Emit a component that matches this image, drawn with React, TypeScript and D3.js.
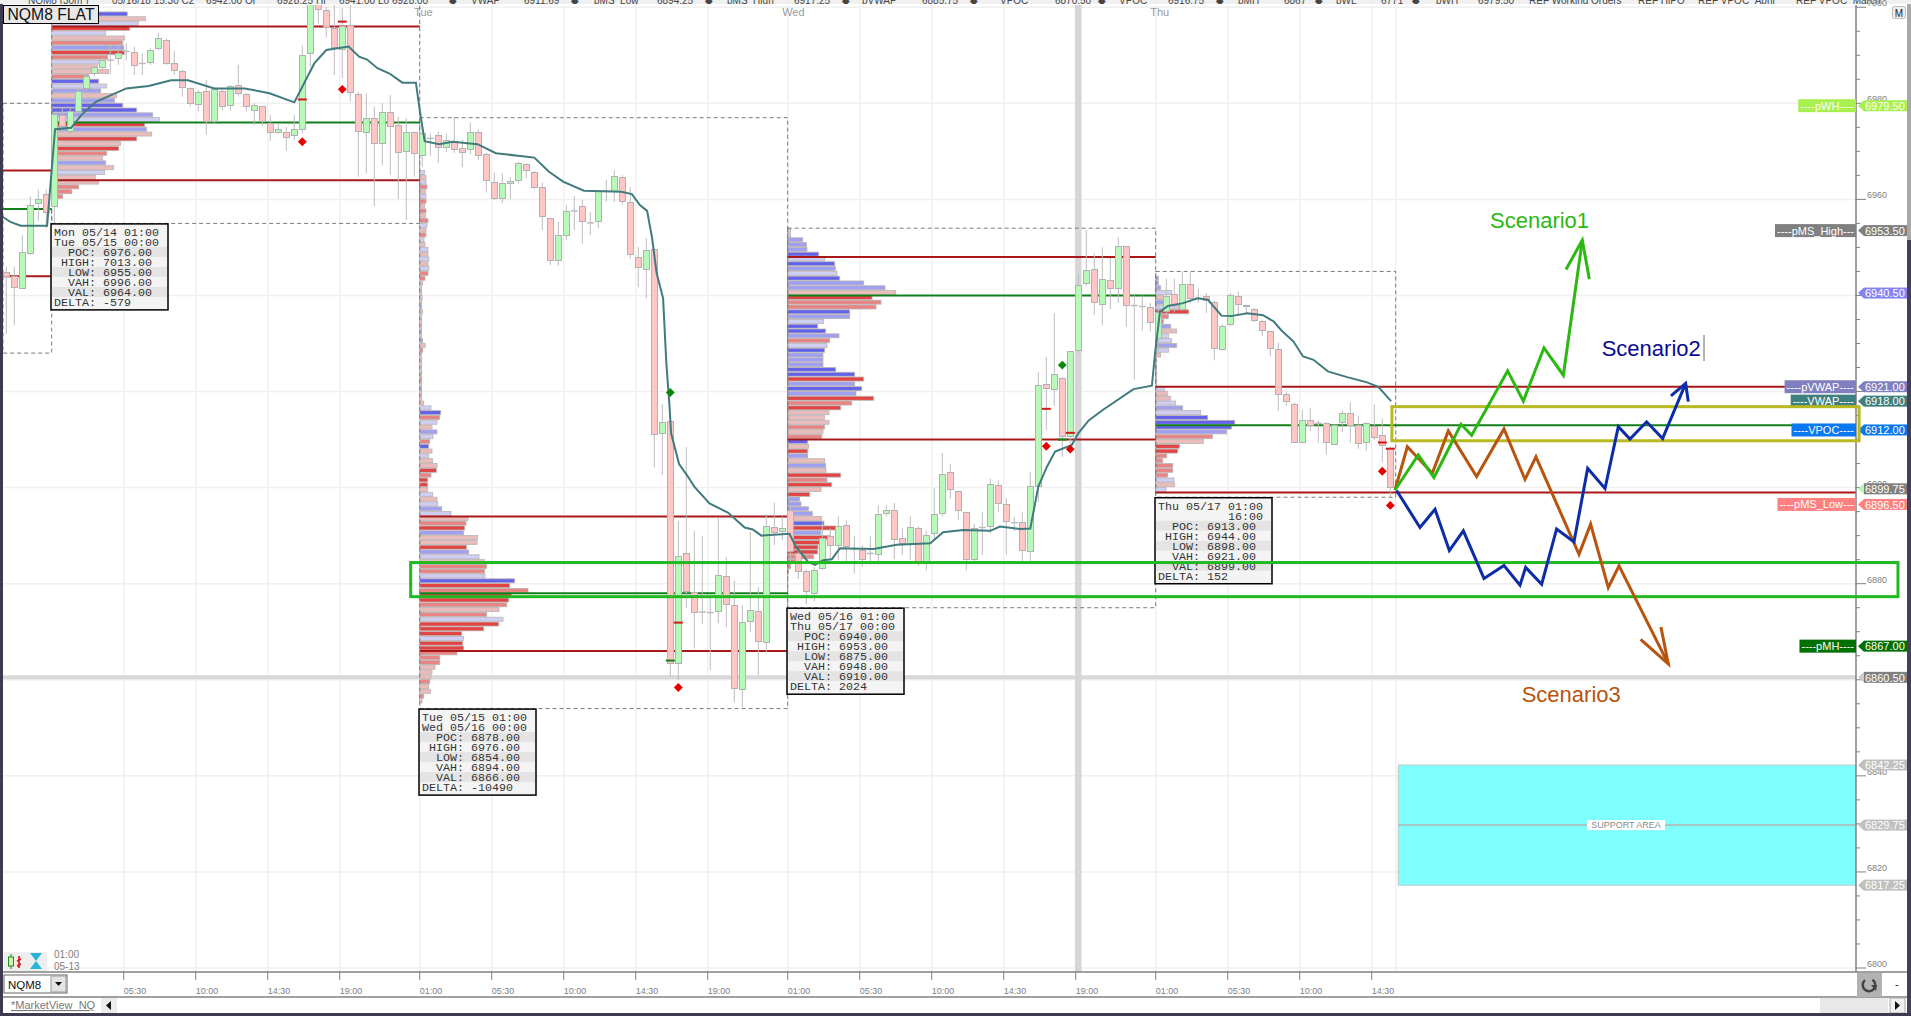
import React, { useEffect, useRef } from 'react';
import * as d3 from 'd3';

type Ohlc = [number, number, number, number];
type Point = [number, number];

// open, high, low, close
const fridayCandles: Ohlc[] = [
  [6944.8, 6946, 6932, 6944], [6944, 6946, 6933.8, 6941.7], [6941.5, 6952.6, 6941.5, 6948.9],
  [6948.8, 6960.6, 6948.4, 6958.8], [6959.2, 6962, 6955.4, 6960], [6961, 6962, 6954, 6957.2],
];
const mondayCandles: Ohlc[] = [
  [6958.5, 6978, 6955, 6977.6], [6977.4, 6979, 6974, 6975.1], [6974.2, 6979, 6973.5, 6978.3], [6978.3, 6983, 6978, 6982.4],
  [6983.1, 6986, 6982.6, 6985.5], [6986.1, 6987.8, 6985.6, 6987.4], [6987.5, 6989.5, 6987, 6989], [6989, 6992, 6986, 6989],
  [6989.4, 6992, 6988, 6990.4], [6990.8, 6992.5, 6989, 6990.8], [6990.6, 6991.8, 6985.9, 6987.8], [6988.3, 6990.4, 6985.9, 6988.3],
  [6988.5, 6991.5, 6988, 6991], [6991.4, 6994.6, 6991, 6993.5], [6993, 6993.5, 6988, 6988.3], [6988.3, 6991, 6985.9, 6986.9],
  [6986.6, 6987, 6981.4, 6983.3], [6983.1, 6983.3, 6979.4, 6980], [6979.8, 6982.8, 6978.3, 6982.2], [6982.4, 6984.8, 6973.5, 6976.2],
  [6976.2, 6983.3, 6975.8, 6982.9], [6982.4, 6983.1, 6978.6, 6979.4], [6979.6, 6983.8, 6978.5, 6983.5], [6983.7, 6988, 6981.4, 6982.1],
  [6981.9, 6982.1, 6978.3, 6979.4], [6978.6, 6980, 6975.5, 6979.6], [6979.3, 6979.4, 6975.3, 6976.2], [6975.8, 6977.6, 6972.2, 6974],
  [6974, 6975.7, 6973.7, 6974.6], [6974, 6975.1, 6970.1, 6972.9], [6973.4, 6977.6, 6972.4, 6974.6], [6974.6, 6992, 6973.7, 6989.9],
  [6990.3, 7004, 6987.6, 7002.5], [7003, 7006, 6996.6, 6999.6], [6999.4, 7000.1, 6993.7, 6995.8], [6995.6, 7003, 6985.9, 6991.6],
  [6991.1, 6999.8, 6985.2, 6996], [6996.1, 7003, 6980.3, 6982.3], [6981.9, 6982.4, 6964.7, 6974.1], [6973.9, 6982.1, 6965.4, 6976.9],
  [6976.9, 6979.3, 6958.6, 6971.7], [6971.7, 6980, 6967.1, 6978], [6978, 6981.7, 6965.1, 6975.1], [6975.3, 6977.2, 6960.1, 6969.8],
  [6969.9, 6976.9, 6955.7, 6974], [6974, 6974.1, 6964.7, 6969.6],
];
const tuesdayCandles: Ohlc[] = [
  [6969.2, 6975, 6966.8, 6973.7], [6972.7, 6973.7, 6969, 6972.7], [6973.2, 6974.1, 6967.6, 6970.8], [6970.8, 6973.7, 6969.9, 6972.2],
  [6972, 6977.2, 6969.7, 6970.4], [6970.6, 6972.4, 6966.7, 6969.7], [6970.4, 6976, 6969.4, 6973.9], [6973.9, 6974.6, 6968.2, 6969.1],
  [6969.4, 6969.7, 6961.4, 6963.9], [6963.5, 6965.6, 6959.9, 6960.1], [6960.1, 6965.4, 6959.2, 6963.3], [6963.3, 6964.6, 6960, 6963.7],
  [6963.9, 6967.8, 6963.3, 6967.5], [6967.3, 6967.5, 6964.4, 6966], [6965.6, 6965.9, 6962.1, 6962.4], [6962.4, 6963.5, 6953.6, 6956.4],
  [6956, 6956.2, 6946.3, 6947.2], [6947.2, 6955.3, 6946.2, 6952.4], [6952.5, 6958.8, 6951.5, 6957.4], [6957.6, 6960.7, 6953.6, 6957.6],
  [6958.5, 6959.9, 6950.8, 6955.4], [6955.1, 6957.4, 6952.6, 6955.1], [6955.4, 6961.7, 6954, 6961.6], [6961.7, 6964, 6959.5, 6961.7],
  [6961.6, 6966.1, 6959.5, 6964.7], [6964.6, 6965, 6959, 6959.6], [6959.4, 6962.6, 6947.7, 6948.5], [6948, 6950.1, 6941.7, 6945.8],
  [6945.4, 6951.9, 6939.4, 6949.4], [6949.6, 6949.8, 6904.2, 6911], [6911.3, 6917.3, 6902.6, 6913.5], [6913.7, 6914, 6860.7, 6863.4],
  [6863.4, 6893, 6859.9, 6885.6], [6886.3, 6908.4, 6875, 6878.3], [6878.2, 6891, 6866.5, 6874], [6874.1, 6890, 6871.6, 6874.1],
  [6874, 6877.5, 6862, 6874], [6874.2, 6893.7, 6871.8, 6881.7], [6881.5, 6885.5, 6870.9, 6875.7], [6875.4, 6880.6, 6855.3, 6858.2],
  [6858, 6875.5, 6854.3, 6871.9], [6872.1, 6890.8, 6870, 6874.4], [6874.2, 6879.3, 6860.9, 6867.9], [6867.8, 6894.5, 6865.7, 6891.9],
  [6891.7, 6896.9, 6888, 6890.6], [6890.8, 6894, 6889, 6891.5],
];
const wednesdayCandles: Ohlc[] = [
  [6895.3, 6896, 6884, 6886.7], [6886.3, 6887, 6881, 6882.5], [6882.5, 6883, 6875.7, 6878.3], [6878, 6883.5, 6876.3, 6882.7],
  [6883.2, 6893, 6882.8, 6889.4], [6889.9, 6891.5, 6885, 6888], [6888, 6894, 6885, 6891.9], [6892.2, 6893.2, 6884.5, 6887.7],
  [6887.2, 6890, 6882.1, 6887.2], [6887, 6888, 6883.5, 6885.1], [6886.3, 6890, 6884, 6886.3], [6886, 6896.3, 6884, 6894.4],
  [6894.7, 6896.3, 6894, 6895.2], [6895.2, 6896.8, 6885.1, 6889.2], [6889.4, 6891.5, 6886, 6888.3], [6888.1, 6894, 6885, 6891.7],
  [6891.5, 6892, 6883.7, 6884.6], [6884.6, 6891, 6882.8, 6890], [6890.5, 6899.9, 6889, 6894.5], [6894.6, 6907.2, 6894, 6902.8],
  [6903.2, 6905, 6897.7, 6899.6], [6899.2, 6899.4, 6893.2, 6895.3], [6894.9, 6895, 6882.8, 6885.1], [6885.1, 6892.5, 6884.5, 6891.5],
  [6891.7, 6895, 6886, 6891.7], [6891.9, 6901.9, 6890.5, 6900.7], [6900.4, 6901.5, 6895, 6896.7], [6896.4, 6897.8, 6886, 6892.9],
  [6892.7, 6893.9, 6891, 6892.7], [6892.8, 6895, 6884.5, 6886.9], [6886.7, 6903.2, 6884.5, 6900.3], [6900.2, 6924, 6897, 6921.2],
  [6921.5, 6927.2, 6912, 6920.7], [6920.5, 6936.3, 6917, 6923.6], [6922.8, 6923, 6906.4, 6910.6], [6910.6, 6928.5, 6909, 6928.3],
  [6928.6, 6944.5, 6928, 6942], [6942.4, 6953.6, 6942, 6945.2], [6945.5, 6948.7, 6936, 6938.6], [6938.2, 6950, 6933.8, 6943.4],
  [6943.1, 6947.8, 6937.2, 6941.5], [6941.5, 6952.1, 6938.4, 6950.2], [6950.2, 6950.3, 6933.5, 6938], [6937.9, 6940, 6922.5, 6937.9],
  [6937.7, 6940, 6932.7, 6937.7], [6937.5, 6938.5, 6932.5, 6934.4],
];
const thursdayCandles: Ohlc[] = [
  [6931, 6938, 6928, 6936.5], [6936.6, 6943.5, 6936, 6939.8], [6940.2, 6943.5, 6936.5, 6938], [6937, 6945, 6936.8, 6942.3],
  [6942.3, 6944.9, 6938.3, 6939.4], [6939.4, 6941.4, 6938.5, 6939.4], [6939.8, 6940.5, 6936.3, 6938.9], [6938.6, 6939, 6926.5, 6929],
  [6928.8, 6934, 6928.5, 6933.5], [6933.9, 6940.5, 6933.5, 6940], [6939.8, 6940.8, 6935.7, 6938.2], [6938, 6938.1, 6936.3, 6937.6],
  [6937, 6937.4, 6934.5, 6934.8], [6934.6, 6935, 6931.6, 6932.7], [6932.5, 6932.7, 6927.3, 6929], [6928.8, 6930.2, 6916, 6919.4],
  [6919.3, 6920, 6917, 6918], [6917.4, 6917.7, 6909.2, 6909.4], [6909.4, 6916.2, 6909.2, 6914], [6914, 6916.5, 6911.8, 6913],
  [6913.4, 6914, 6909.4, 6913.4], [6913.4, 6913.6, 6906.9, 6909.4], [6909, 6913.2, 6909, 6912.9], [6913.6, 6916, 6911.5, 6915.5],
  [6915.5, 6917.8, 6909.4, 6913], [6912.9, 6914.9, 6908.1, 6909.2], [6909.4, 6913.6, 6907.7, 6913.4], [6912.7, 6917.3, 6909.9, 6910.5],
  [6910.8, 6914.4, 6905.3, 6908.7], [6908.2, 6908.5, 6898, 6900.1],
];

// bar number, price
const vwapLine: Point[] = [
  [-6.5, 6956.4], [-5.5, 6955.3], [-4.2, 6954.5], [-0.9, 6954.5], [-0.4, 6964.7], [0.1, 6974.6], [2.1, 6974.9], [3.4, 6977.6],
  [5.2, 6980.3], [9, 6983.1], [11.8, 6983.6], [14.6, 6984.8], [16.7, 6984.8], [20, 6983.1], [23.8, 6983.1], [26.9, 6982.1],
  [30, 6980.2], [32.5, 6988.3], [34, 6991.1], [36.8, 6991.8], [38.1, 6989.7], [39.1, 6989.1], [40.4, 6987.3], [41.9, 6986.2],
  [43.5, 6984.3], [45.2, 6984.3], [45.8, 6977.2], [46.3, 6972.1], [48.1, 6971.5], [49.8, 6972], [52.9, 6971.5], [55.2, 6969.6],
  [60, 6968.7], [61.8, 6965.8], [63.6, 6963.7], [66.2, 6961.8], [70.9, 6961.6], [72.2, 6961.1], [73.2, 6958.8], [74.1, 6957.6],
  [74.7, 6952.2], [75.3, 6944.6], [76.1, 6939.4], [76.5, 6926], [76.9, 6917], [77.1, 6911.3], [78.1, 6904.9], [79.2, 6902.3],
  [80, 6900.2], [81.9, 6896.7], [84.2, 6894.8], [86.3, 6891.7], [87.3, 6891.3], [88.4, 6890], [91.9, 6890.4], [92.7, 6887.7],
  [94.2, 6884.6], [95.1, 6883.9], [96.1, 6884.9], [97.2, 6885.1], [98.2, 6887.4], [102.4, 6887.2], [105.3, 6888.1], [109.5, 6888.4],
  [111.1, 6890.7], [113.6, 6891.2], [117, 6891], [118.2, 6891.9], [120.7, 6891.4], [122, 6891.5], [123, 6900.2], [124.1, 6904.4],
  [125.1, 6907.5], [127.2, 6908.9], [128, 6911.3], [129.3, 6914], [131.1, 6916.2], [134.9, 6920.5], [137.2, 6921.2], [137.6, 6928],
  [138.2, 6936.6], [139.2, 6937.8], [141.1, 6938.4], [142.9, 6939.4], [144.2, 6939.1], [145.9, 6935.8], [147.1, 6935.7], [149.1, 6936.3],
  [151.1, 6935.9], [152.4, 6934.6], [153.4, 6932.7], [154.9, 6930.4], [156.1, 6927.3], [157.4, 6926.6], [159.2, 6924.2], [161.6, 6923],
  [164.1, 6921.9], [165.5, 6921], [167.1, 6918],
];

// volume profiles: one entry per price row, top row first. tones: R r p red, B b l blue
const mondayVolume = [75.5, 94, 86.5, 78, 54, 73, 71, 72, 73, 56, 49, 46, 57, 37, 47, 55, 49, 65, 63, 71, 85, 101, 108, 93, 95, 100, 85, 69, 67, 55, 51, 54, 62, 53, 44, 47, 27, 20, 11];
const mondayTones = 'BplRlprbRrlpprBlbpbBBblRbpRpRrpbplpprrr';
const tuesdayVolume = [
  5, 6.3, 6.3, 7.3, 5.7, 6.3, 6.3, 4.7, 6.3, 5.7, 8.3, 7.3, 6.3, 6.3, 4.3, 5.3, 8.3, 8.3, 9.3, 8.3, 9.3, 8.3, 5.3,
  3, 2, 2, 2.5, 2, 2, 3, 2, 2, 2, 2, 2, 3, 5.5, 3, 2, 2, 2, 2, 2, 2, 2, 2, 2, 2,
  4, 11.3, 21, 20, 17.3, 12.3, 17.3, 13.3, 10, 9, 12.3, 9, 13, 17.3, 16.7, 11.3, 8, 8, 8, 13, 17.3, 18, 22, 31.3, 48.3, 46.3, 45, 44, 58, 57.3,
  46.7, 49, 59.3, 64.7, 67, 65, 65.3, 95, 90, 108.3, 91.7, 89, 87, 79.3, 67, 83.3, 79, 64, 42, 44, 43, 44, 37.3, 20, 20, 15.3, 12.3, 11.3, 10, 9, 10.7, 4, 2.3,
];
const tuesdayTones = 'lplrplrprprlprlplplplrr' + 'plplpbplppbpbprppplprpbpp' + 'plBrlpblrBplppRrRRplplblprRbppRblprrlBRrRRrprlRRRlRRrrrppprpprp';
const wednesdayVolume = [
  2.7, 3, 15, 18.7, 19.3, 31, 37, 47, 47.7, 49.3, 52, 76, 97.3, 108, 84.3, 93.3, 88.3, 62, 62, 36, 30, 38, 51.3, 42, 39.3, 37, 35.3, 35.3, 35.3, 48,
  67, 76, 67, 74, 68.3, 86, 64, 53, 41.3, 36.7, 41.3, 37, 35.3, 34, 20, 21, 20, 20, 37, 38, 38.3, 53, 39.3, 44, 33.3, 22, 12, 13.3, 20.7, 24.7,
  34, 36.3, 47.7, 33.3, 42, 32, 30.3, 30, 26, 9, 3, 1,
];
const wednesdayTones = 'llbbbBlBblBbbpRrrBblBBbrlBbbbBBRbBbRrRppprprBpRbpbpRrRpRbbbbpBRbRRRRrrrr';
const thursdayVolume = [
  2.7, 2.7, 5, 16, 7.7, 7.7, 22.7, 33, 12.7, 7.7, 15, 21, 12.7, 16, 21, 12.7, 5, 1, 1, 1, 1, 1, 1,
  8.7, 12, 15, 20, 27, 45, 52, 79, 75.7, 71, 56.7, 47.7, 23.7, 22, 11, 7, 17, 17, 12, 18.3, 19, 10.3,
];
const thursdayTones = 'bbblpblRrrbpllblpppplppl' + 'pplblBBBbrpRRrrrrrlpl';

const sessionStats = [
  { start: 0, end: 46, high: 7013, low: 6955, poc: 6976, vah: 6996, val: 6964, volume: mondayVolume, tones: mondayTones, profileTop: 6998.6,
    lines: ['Mon 05/14 01:00', 'Tue 05/15 00:00', '  POC: 6976.00', ' HIGH: 7013.00', '  LOW: 6955.00', '  VAH: 6996.00', '  VAL: 6964.00', 'DELTA: -579'] },
  { start: 46, end: 92, high: 6976, low: 6854, poc: 6878, vah: 6894, val: 6866, volume: tuesdayVolume, tones: tuesdayTones, profileTop: 6965.6,
    lines: ['Tue 05/15 01:00', 'Wed 05/16 00:00', '  POC: 6878.00', ' HIGH: 6976.00', '  LOW: 6854.00', '  VAH: 6894.00', '  VAL: 6866.00', 'DELTA: -10490'] },
  { start: 92, end: 138, high: 6953, low: 6875, poc: 6940, vah: 6948, val: 6910, volume: wednesdayVolume, tones: wednesdayTones, profileTop: 6953.6,
    lines: ['Wed 05/16 01:00', 'Thu 05/17 00:00', '  POC: 6940.00', ' HIGH: 6953.00', '  LOW: 6875.00', '  VAH: 6948.00', '  VAL: 6910.00', 'DELTA: 2024'] },
  { start: 138, end: 168, high: 6944, low: 6898, poc: 6913, vah: 6921, val: 6899, volume: thursdayVolume, tones: thursdayTones, profileTop: 6943.6,
    lines: ['Thu 05/17 01:00', '          16:00', '  POC: 6913.00', ' HIGH: 6944.00', '  LOW: 6898.00', '  VAH: 6921.00', '  VAL: 6899.00', 'DELTA: 152'] },
];

const timeTicks: [number, string][] = [
  [9, '05:30'], [18, '10:00'], [27, '14:30'], [36, '19:00'], [46, '01:00'], [55, '05:30'], [64, '10:00'], [73, '14:30'], [82, '19:00'],
  [92, '01:00'], [101, '05:30'], [110, '10:00'], [119, '14:30'], [128, '19:00'], [138, '01:00'], [147, '05:30'], [156, '10:00'], [165, '14:30'],
];
const dayLabels: [number, string][] = [[46, 'Tue'], [92, 'Wed'], [138, 'Thu']];

const redDiamonds: Point[] = [[31, 6972], [36, 6982.9], [78, 6858.4], [124, 6908.6], [127, 6908], [166, 6903.4], [167, 6896.3]];
const greenDiamonds: Point[] = [[77, 6919.8], [126, 6925.5]];
const redDashes: Point[] = [[31, 6980.8], [36, 6997], [78, 6871.9], [124, 6916.4], [127, 6911.4], [166, 6909.4], [167, 6908.1]];
const greenDashes: Point[] = [[77, 6864], [126, 6910]];

const scenario1: Point[] = [[167.59, 6899.5], [170.5, 6906.8], [172.46, 6902.1], [175.84, 6913.2], [177.17, 6910.9], [181.67, 6924.3], [183.63, 6918], [186.21, 6929.1], [188.63, 6923.4], [191, 6951.5]];
const scenario1Head: Point[] = [[188.96, 6945.4], [191, 6951.5], [191.88, 6943.4]];
const scenario2: Point[] = [[167.79, 6899.4], [170.71, 6891.7], [172.59, 6895.5], [174.38, 6886.9], [176.13, 6891], [178.71, 6881.1], [181.21, 6883.8], [183.21, 6879.7], [183.92, 6883.4], [185.92, 6879.9], [187.79, 6891.4], [189.96, 6888.7], [191.67, 6904], [193.84, 6899.8], [195.5, 6912.7], [196.96, 6910.1], [199.04, 6913.7], [201.04, 6910.2], [203.92, 6921.7]];
const scenario2Head: Point[] = [[202.08, 6919.1], [203.92, 6921.7], [204.25, 6917.9]];
const scenario3: Point[] = [[167.59, 6899.5], [169.13, 6908.5], [172.25, 6903], [174.25, 6911.8], [177.79, 6902.3], [181.21, 6912.2], [183.84, 6901.7], [185.21, 6906.4], [190.59, 6886.1], [192.04, 6892.4], [194.25, 6879.2], [195.59, 6883.7], [201.75, 6863.3]];
const scenario3Head: Point[] = [[198.29, 6868.4], [201.75, 6863.3], [200.83, 6871]];

const priceTags = [
  { price: 6979.5, text: '6979.50', label: '----pWH----', color: '#a8f050' },
  { price: 6953.5, text: '6953.50', label: '----pMS_High---', color: '#808080' },
  { price: 6940.5, text: '6940.50', label: '', color: '#8484f2' },
  { price: 6921, text: '6921.00', label: '----pVWAP----', color: '#8080c0' },
  { price: 6918, text: '6918.00', label: '----VWAP----', color: '#3f7f7f' },
  { price: 6912, text: '6912.00', label: '----VPOC----', color: '#0a78f0' },
  { price: 6899.75, text: '6899.75', label: '', color: '#808080', tip: '#b4f8b4' },
  { price: 6896.5, text: '6896.50', label: '----pMS_Low---', color: '#ff8080' },
  { price: 6867, text: '6867.00', label: '----pMH----', color: '#007000' },
  { price: 6860.5, text: '6860.50', label: '', color: '#808080', tip: '#cccccc' },
  { price: 6842.25, text: '6842.25', label: '', color: '#c0c0c0' },
  { price: 6829.75, text: '6829.75', label: '', color: '#c0c0c0' },
  { price: 6817.25, text: '6817.25', label: '', color: '#c0c0c0' },
];

const headerItems: [number, string][] = [
  [28, 'NQM8 (30m )'], [112, '05/16/18 15:30 C2'], [206, '6942.00 Or'], [277, '6928.25 Hr'], [339, '6941.00 Lo'], [392, '6928.00'], [449, '◆'],
  [471, 'VWAP'], [524, '6911.69'], [571, '◆'], [594, 'pMS_Low'], [657, '6894.25'], [705, '◆'], [727, 'pMS_High'], [794, '6917.25'], [842, '◆'],
  [862, 'pVWAP'], [922, '6885.75'], [970, '◆'], [1000, 'VPOC'], [1055, '6870.50'], [1098, '◆'], [1119, 'VPOC'], [1168, '6916.75'], [1216, '◆'],
  [1238, 'pMH'], [1284, '6867'], [1315, '◆'], [1336, 'pWL'], [1381, '6771'], [1412, '◆'], [1436, 'pWH'], [1478, '6979.50'],
  [1529, 'REF Working Orders'], [1638, 'REF HiPO'], [1698, 'REF VPOC_April'], [1796, 'REF VPOC_March'],
];

const toneColors: Record<string, string> = {
  R: '#e24444', r: '#e88484', p: '#eabcbc', B: '#6262ea', b: '#a0a0f2', l: '#cfcff4',
};

const W = 1911;
const H = 1016;
const plotTop = 5;
const plotBottom = 972;
const axisX = 1856;

const App: React.FC = () => {
  const svgRef = useRef<SVGSVGElement>(null);

  useEffect(() => {
    if (!svgRef.current) return;
    const svg = d3.select(svgRef.current);
    svg.selectAll('*').remove();

    const x = d3.scaleLinear().domain([0, 1]).range([54.3, 62.3]);
    const y = d3.scaleLinear().domain([6980, 6800]).range([103.3, 968]);
    const xTick = (i: number) => x(i) - 2.6;
    const volumeScale = d3.scaleLinear().domain([0, 100]).range([0, 100]);
    const sans = '"Liberation Sans", sans-serif';

    svg.append('rect').attr('width', W).attr('height', H).attr('fill', '#ffffff');

    const defs = svg.append('defs');
    defs.append('clipPath').attr('id', 'plot-clip').append('rect')
      .attr('x', 3).attr('y', plotTop).attr('width', axisX - 3).attr('height', plotBottom - plotTop);
    defs.append('clipPath').attr('id', 'header-clip').append('rect')
      .attr('x', 0).attr('y', 0).attr('width', W).attr('height', 4);

    // cropped legend row along the top
    const header = svg.append('g').attr('clip-path', 'url(#header-clip)');
    header.append('rect').attr('width', W).attr('height', 4).attr('fill', '#f0f0f0');
    header.selectAll('text').data(headerItems).enter().append('text')
      .attr('x', d => d[0]).attr('y', 3.5).text(d => d[1])
      .attr('font-family', sans).attr('font-size', 10).attr('fill', '#444');

    const plot = svg.append('g').attr('clip-path', 'url(#plot-clip)');

    // 1. grid
    const yMajor = d3.range(6800, 7001, 20);
    plot.selectAll('line.hgrid').data(yMajor).enter().append('line').attr('class', 'hgrid')
      .attr('x1', 3).attr('x2', axisX).attr('y1', d => y(d)).attr('y2', d => y(d))
      .attr('stroke', '#f0f0f0').attr('stroke-width', 1.5);
    plot.selectAll('line.vgrid').data([...timeTicks.map(d => d[0]), 168]).enter().append('line').attr('class', 'vgrid')
      .attr('x1', d => xTick(d)).attr('x2', d => xTick(d)).attr('y1', plotTop).attr('y2', plotBottom)
      .attr('stroke', '#f0f0f0').attr('stroke-width', 1.5);

    // crosshair
    plot.append('line').attr('x1', 3).attr('x2', axisX).attr('y1', y(6860.5)).attr('y2', y(6860.5))
      .attr('stroke', '#d8d8d8').attr('stroke-width', 4);
    plot.append('line').attr('x1', x(128)).attr('x2', x(128)).attr('y1', plotTop).attr('y2', plotBottom)
      .attr('stroke', '#d6d6d6').attr('stroke-width', 6.5);

    // support area
    plot.append('rect').attr('x', x(168)).attr('width', axisX - x(168))
      .attr('y', y(6842.25)).attr('height', y(6817.25) - y(6842.25))
      .attr('fill', '#80ffff').attr('stroke', '#b8c8c8').attr('stroke-width', 1);
    plot.append('line').attr('x1', x(168)).attr('x2', axisX).attr('y1', y(6829.75)).attr('y2', y(6829.75))
      .attr('stroke', '#b4b4b4').attr('stroke-width', 1.5);
    plot.append('rect').attr('x', 1587).attr('y', y(6829.75) - 5).attr('width', 78).attr('height', 10).attr('fill', '#ffffff');
    plot.append('text').attr('x', 1626).attr('y', y(6829.75) + 3).attr('text-anchor', 'middle')
      .attr('font-family', sans).attr('font-size', 9).attr('fill', '#8a8a8a').text('SUPPORT AREA');

    // 2. volume profiles
    sessionStats.forEach(s => {
      const left = xTick(s.start);
      s.volume.forEach((v, k) => {
        const p = s.profileTop - k;
        plot.append('rect')
          .attr('x', left).attr('y', y(p + 0.5) + 0.4)
          .attr('width', volumeScale(v)).attr('height', y(p - 0.5) - y(p + 0.5) - 0.8)
          .attr('fill', toneColors[s.tones[k]] || toneColors.p)
          .attr('stroke', '#bcb4b4').attr('stroke-width', 0.8);
      });
    });

    // 3. dashed session boxes and levels
    const boxes = plot.append('g').attr('fill', 'none').attr('stroke', '#7a7a7a').attr('stroke-width', 1).attr('stroke-dasharray', '4,3');
    sessionStats.forEach(s => {
      boxes.append('rect').attr('x', xTick(s.start)).attr('width', xTick(s.end) - xTick(s.start))
        .attr('y', y(s.high + 1)).attr('height', y(s.low) - y(s.high + 1));
    });
    boxes.append('rect').attr('x', 3).attr('width', xTick(0) - 3).attr('y', y(6980)).attr('height', y(6928) - y(6980));

    const drawLevel = (price: number, from: number, to: number, color: string) => {
      plot.append('line').attr('x1', from).attr('x2', to).attr('y1', y(price)).attr('y2', y(price))
        .attr('stroke', color).attr('stroke-width', 2);
    };
    const levelRed = '#a81818';
    const levelGreen = '#12801a';
    drawLevel(6966, 3, xTick(0), levelRed);
    drawLevel(6958, 3, xTick(0), levelGreen);
    drawLevel(6944, 3, xTick(0), levelRed);
    sessionStats.forEach(s => {
      const to = s.end === 168 ? axisX : xTick(s.end);
      drawLevel(s.vah, xTick(s.start), to, levelRed);
      drawLevel(s.poc, xTick(s.start), to, levelGreen);
      drawLevel(s.val, xTick(s.start), to, levelRed);
    });

    // 4. candles
    const candles: { i: number; d: Ohlc }[] = [];
    fridayCandles.forEach((d, k) => candles.push({ i: k - fridayCandles.length, d }));
    [...mondayCandles, ...tuesdayCandles, ...wednesdayCandles, ...thursdayCandles].forEach((d, k) => candles.push({ i: k, d }));

    const cg = plot.selectAll('g.candle').data(candles).enter().append('g').attr('class', 'candle');
    cg.append('line')
      .attr('x1', c => x(c.i)).attr('x2', c => x(c.i))
      .attr('y1', c => y(c.d[1])).attr('y2', c => y(c.d[2]))
      .attr('stroke', '#bcbcbc').attr('stroke-width', 1);
    cg.filter(c => c.d[0] !== c.d[3]).append('rect')
      .attr('x', c => x(c.i) - 3).attr('width', 6)
      .attr('y', c => y(Math.max(c.d[0], c.d[3])))
      .attr('height', c => Math.abs(y(c.d[0]) - y(c.d[3])))
      .attr('fill', c => (c.d[3] > c.d[0] ? '#b8f8b8' : '#ffc6c6'))
      .attr('stroke', '#b2b2b2').attr('stroke-width', 1)
      .attr('shape-rendering', 'crispEdges');
    cg.filter(c => c.d[0] === c.d[3]).append('line')
      .attr('x1', c => x(c.i) - 3.5).attr('x2', c => x(c.i) + 3.5)
      .attr('y1', c => y(c.d[0])).attr('y2', c => y(c.d[0]))
      .attr('stroke', '#bcbcbc').attr('stroke-width', 1.5);

    // 5. vwap
    const pathFor = d3.line<Point>().x(d => x(d[0])).y(d => y(d[1]));
    plot.append('path').attr('d', pathFor(vwapLine)).attr('fill', 'none')
      .attr('stroke', '#417b7d').attr('stroke-width', 2);

    // 6. markers
    const diamond = d3.symbol().type(d3.symbolDiamond2).size(50);
    const drawDiamonds = (pts: Point[], color: string) => {
      pts.forEach(p => {
        plot.append('path').attr('d', diamond()).attr('fill', color)
          .attr('transform', `translate(${x(p[0])},${y(p[1])})`);
      });
    };
    drawDiamonds(redDiamonds, '#e80000');
    drawDiamonds(greenDiamonds, '#0a8a0a');
    const drawDashes = (pts: Point[], color: string) => {
      pts.forEach(p => {
        plot.append('line').attr('x1', x(p[0]) - 4.5).attr('x2', x(p[0]) + 4.5).attr('y1', y(p[1])).attr('y2', y(p[1]))
          .attr('stroke', color).attr('stroke-width', 2);
      });
    };
    drawDashes(redDashes, '#d01818');
    drawDashes(greenDashes, '#158015');

    // 7. session info boxes
    sessionStats.forEach(s => {
      const bx = xTick(s.start) - 0.7;
      const by = y(s.low) + 0.5;
      const g = plot.append('g').attr('transform', `translate(${bx},${by})`);
      g.append('rect').attr('width', 117).attr('height', 86).attr('fill', '#f4f4f4').attr('stroke', '#000').attr('stroke-width', 1.5);
      s.lines.forEach((line, k) => {
        if (k >= 2 && k % 2 === 0) {
          g.append('rect').attr('x', 1).attr('y', 3 + k * 10).attr('width', 115).attr('height', 10).attr('fill', '#e4e4e4');
        }
        g.append('text').attr('x', 3).attr('y', 12 + k * 10)
          .attr('font-family', '"Liberation Mono", monospace').attr('font-size', 11.67).attr('fill', '#333')
          .style('white-space', 'pre').text(line);
      });
    });

    // 8. right hand axis
    const axis = svg.append('g');
    axis.append('line').attr('x1', axisX).attr('x2', axisX).attr('y1', plotTop).attr('y2', plotBottom)
      .attr('stroke', '#808080').attr('stroke-width', 1.5);
    d3.range(6800, 7001, 5).forEach(v => {
      const major = v % 20 === 0;
      axis.append('line').attr('x1', axisX).attr('x2', axisX + (major ? 10 : 4)).attr('y1', y(v)).attr('y2', y(v))
        .attr('stroke', '#808080').attr('stroke-width', 1);
      if (major) {
        axis.append('text').attr('x', axisX + 11).attr('y', y(v) - 1).attr('font-family', sans).attr('font-size', 9)
          .attr('fill', '#808080').text(String(v));
      }
    });

    // 9. drawn rectangles and scenarios
    const overlay = svg.append('g');
    overlay.append('rect').attr('x', x(44.55)).attr('width', x(230.46) - x(44.55))
      .attr('y', y(6884.4)).attr('height', y(6877.3) - y(6884.4))
      .attr('fill', 'none').attr('stroke', '#22b822').attr('stroke-width', 3);

    // 10. price tags, under the yellow box
    priceTags.forEach(t => {
      const ty = y(t.price);
      const g = axis.append('g');
      if (t.label) {
        const txt = g.append('text').attr('x', axisX - 2).attr('y', ty + 4).attr('text-anchor', 'end')
          .attr('font-family', sans).attr('font-size', 11).attr('fill', '#ffffff').text(t.label);
        const w = (txt.node() as SVGTextElement).getComputedTextLength();
        g.insert('rect', 'text').attr('x', axisX - w - 4).attr('y', ty - 6.5).attr('width', w + 4).attr('height', 13).attr('fill', t.color);
      }
      g.append('rect').attr('x', axisX + 8).attr('y', ty - 5.5).attr('width', W - 4 - axisX - 8).attr('height', 11).attr('fill', t.color);
      g.append('path').attr('d', `M${axisX + 2},${ty} L${axisX + 8},${ty - 5.5} L${axisX + 8},${ty + 5.5} Z`).attr('fill', t.tip || t.color);
      g.append('text').attr('x', axisX + 9).attr('y', ty + 4.2).attr('font-family', sans).attr('font-size', 11)
        .attr('fill', '#ffffff').text(t.text);
    });

    overlay.append('rect').attr('x', x(167.2)).attr('width', x(225.6) - x(167.2))
      .attr('y', y(6916.85)).attr('height', y(6909.75) - y(6916.85))
      .attr('fill', 'none').attr('stroke', '#b8b820').attr('stroke-width', 3);
    axis.raise();
    overlay.raise();

    const drawScenario = (pts: Point[], head: Point[], color: string) => {
      overlay.append('path').attr('d', pathFor(pts)).attr('fill', 'none').attr('stroke', color).attr('stroke-width', 3);
      overlay.append('path').attr('d', pathFor(head)).attr('fill', 'none').attr('stroke', color).attr('stroke-width', 3);
    };
    drawScenario(scenario3, scenario3Head, '#b8540e');
    drawScenario(scenario1, scenario1Head, '#2cb812');
    drawScenario(scenario2, scenario2Head, '#0c2ca8');

    const scenarioText = (tx: number, ty: number, label: string, color: string) => {
      overlay.append('text').attr('x', tx).attr('y', ty).attr('font-family', sans).attr('font-size', 22)
        .attr('fill', color).text(label);
    };
    scenarioText(1490, 228, 'Scenario1', '#2cb812');
    scenarioText(1601.7, 355.7, 'Scenario2', '#0a0a96');
    scenarioText(1521.7, 702, 'Scenario3', '#b8540e');
    overlay.append('line').attr('x1', 1704).attr('x2', 1704).attr('y1', 335).attr('y2', 361).attr('stroke', '#666').attr('stroke-width', 1);

    // 11. day names and the instrument badge
    dayLabels.forEach(d => {
      overlay.append('text').attr('x', xTick(d[0]) - 5.5).attr('y', 15.5).attr('font-family', sans).attr('font-size', 11)
        .attr('fill', '#999').text(d[1]);
    });
    overlay.append('rect').attr('x', 3.5).attr('y', 5.5).attr('width', 95).attr('height', 18).attr('fill', '#e8e8e8').attr('stroke', '#000').attr('stroke-width', 1);
    overlay.append('text').attr('x', 7.5).attr('y', 20).attr('font-family', sans).attr('font-size', 16.5)
      .attr('textLength', 87).attr('lengthAdjust', 'spacingAndGlyphs').attr('fill', '#111').text('NQM8 FLAT');

    // 12. bottom chrome
    const chrome = svg.append('g');
    chrome.append('rect').attr('x', 0).attr('y', plotBottom).attr('width', W).attr('height', H - plotBottom).attr('fill', '#ffffff');
    chrome.append('line').attr('x1', 3).attr('x2', 1907).attr('y1', plotBottom).attr('y2', plotBottom).attr('stroke', '#808080').attr('stroke-width', 1.5);
    timeTicks.forEach(t => {
      chrome.append('line').attr('x1', xTick(t[0])).attr('x2', xTick(t[0])).attr('y1', plotBottom).attr('y2', plotBottom + 8).attr('stroke', '#808080').attr('stroke-width', 1);
      chrome.append('text').attr('x', xTick(t[0])).attr('y', 994).attr('font-family', sans).attr('font-size', 9).attr('fill', '#808080').text(t[1]);
    });
    chrome.append('line').attr('x1', 3).attr('x2', 1907).attr('y1', 997).attr('y2', 997).attr('stroke', '#808080').attr('stroke-width', 1.5);
    chrome.append('rect').attr('x', 4).attr('y', 975).attr('width', 63).attr('height', 18).attr('fill', '#fff').attr('stroke', '#666').attr('stroke-width', 1);
    chrome.append('text').attr('x', 8).attr('y', 989).attr('font-family', sans).attr('font-size', 11.5).attr('fill', '#111').text('NQM8');
    chrome.append('rect').attr('x', 51).attr('y', 976).attr('width', 15).attr('height', 16).attr('fill', '#e4e4e4').attr('stroke', '#999');
    chrome.append('path').attr('d', 'M55,982 L62,982 L58.5,986 Z').attr('fill', '#111');
    chrome.append('text').attr('x', 11).attr('y', 1009).attr('font-family', sans).attr('font-size', 11).attr('fill', '#777')
      .attr('text-decoration', 'underline').text('*MarketView_NQ');
    chrome.append('rect').attr('x', 101).attr('y', 998).attr('width', 16).attr('height', 15).attr('fill', '#ececec');
    chrome.append('path').attr('d', 'M111,1001 L106,1005.5 L111,1010 Z').attr('fill', '#111');
    chrome.append('rect').attr('x', 1820).attr('y', 998).attr('width', 68).attr('height', 15).attr('fill', '#e8e8e8');
    chrome.append('rect').attr('x', 1890).attr('y', 998).attr('width', 15).attr('height', 15).attr('fill', '#f0f0f0').attr('stroke', '#aaa');
    chrome.append('path').attr('d', 'M1895,1001 L1900,1005.5 L1895,1010 Z').attr('fill', '#111');
    chrome.append('rect').attr('x', 1857).attr('y', 973).attr('width', 25).attr('height', 24).attr('fill', '#b2b2b2');
    chrome.append('path').attr('d', d3.arc()({ innerRadius: 5, outerRadius: 7.5, startAngle: 0.6, endAngle: 5.6 }) as string)
      .attr('transform', 'translate(1869,985)').attr('fill', '#444');
    chrome.append('path').attr('d', 'M1871,985 L1877,985 L1876,991 Z').attr('fill', '#444');
    chrome.append('text').attr('x', 1895).attr('y', 988).attr('font-family', sans).attr('font-size', 11).attr('fill', '#222').text('-');
    chrome.append('rect').attr('x', 1892.5).attr('y', 6.5).attr('width', 13).attr('height', 12).attr('rx', 2).attr('fill', '#efefef').attr('stroke', '#bbb');
    chrome.append('text').attr('x', 1899).attr('y', 16.5).attr('text-anchor', 'middle').attr('font-family', sans).attr('font-size', 10).attr('fill', '#222').text('M');

    // small status icons above the time axis
    chrome.append('rect').attr('x', 4).attr('y', 952).attr('width', 43).attr('height', 19).attr('fill', '#eeeeee');
    chrome.append('line').attr('x1', 11).attr('x2', 11).attr('y1', 954).attr('y2', 969).attr('stroke', '#1a8a1a');
    chrome.append('rect').attr('x', 8.5).attr('y', 957).attr('width', 5).attr('height', 9).attr('fill', '#d8f0b0').attr('stroke', '#1a8a1a');
    chrome.append('path').attr('d', 'M19,956 L19,968 M17,961 L21,959 M17,966 L21,964').attr('stroke', '#e01010').attr('stroke-width', 1.6).attr('fill', 'none');
    chrome.append('path').attr('d', 'M30,953 L42,953 L36,961 L42,969 L30,969 L36,961 Z').attr('fill', '#26b4dc');
    chrome.append('text').attr('x', 54).attr('y', 958).attr('font-family', sans).attr('font-size', 10).attr('fill', '#808080').text('01:00');
    chrome.append('text').attr('x', 54).attr('y', 970).attr('font-family', sans).attr('font-size', 10).attr('fill', '#808080').text('05-13');

    // window frame
    chrome.append('rect').attr('x', 0).attr('y', 4).attr('width', 3).attr('height', H - 4).attr('fill', '#3f3a50');
    chrome.append('rect').attr('x', 1907).attr('y', 240).attr('width', 4).attr('height', H - 240).attr('fill', '#45405a');
    chrome.append('rect').attr('x', 1907).attr('y', 4).attr('width', 4).attr('height', 236).attr('fill', '#a8a8a8');
    chrome.append('rect').attr('x', 0).attr('y', 1013).attr('width', W).attr('height', 3).attr('fill', '#3f3a50');
  }, []);

  return (
    <svg
      ref={svgRef}
      width={W}
      height={H}
      viewBox={`0 0 ${W} ${H}`}
      style={{ position: 'fixed', left: 0, top: 0, display: 'block' }}
    />
  );
};

export default App;
